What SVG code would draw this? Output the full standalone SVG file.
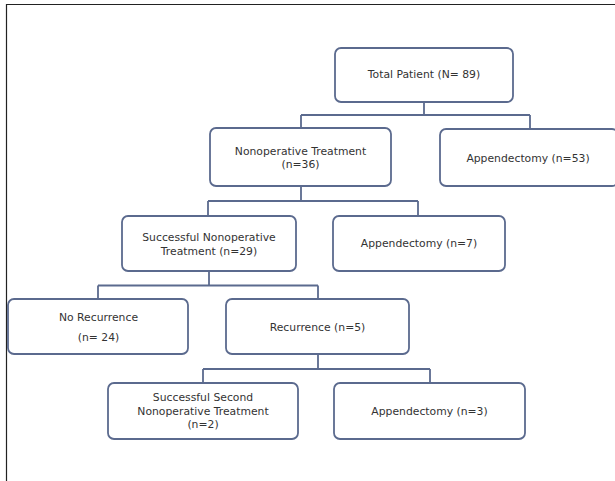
<svg xmlns="http://www.w3.org/2000/svg" width="615" height="481" viewBox="0 0 615 481">
<style>
.box{fill:#ffffff;stroke:#5b6a8e;stroke-width:1.8}
.con{fill:none;stroke:#5b6a8e;stroke-width:1.8}
text{font-family:"DejaVu Sans",Verdana,sans-serif;font-size:10.8px;fill:#333333;text-anchor:middle}
</style>
<rect x="0" y="0" width="615" height="481" fill="#ffffff"/>
<path d="M6.5,481 V4.5 H615" fill="none" stroke="#222222" stroke-width="1.2"/>
<g id="connectors">
<path class="con" d="M424,102 V115 M301,115 H530 M301,115 V128 M530,115 V129"/>
<path class="con" d="M301,186 V201 M208,201 H418 M208,201 V216 M418,201 V216"/>
<path class="con" d="M209,271 V285.5 M98,285.5 H318 M98,285.5 V299 M318,285.5 V299"/>
<path class="con" d="M318,354 V369 M203,369 H430 M203,369 V383 M430,369 V383"/>
</g>
<g id="total">
<rect class="box" x="335" y="48" width="178" height="54" rx="6"/>
<text x="424" y="78">Total Patient (N= 89)</text>
</g>
<g id="nonop">
<rect class="box" x="210" y="128" width="181" height="58" rx="6"/>
<text x="300.5" y="155">Nonoperative Treatment</text>
<text x="300.5" y="168">(n=36)</text>
</g>
<g id="app53">
<rect class="box" x="440" y="129" width="178" height="57" rx="6"/>
<text x="528" y="162">Appendectomy (n=53)</text>
</g>
<g id="succnonop">
<rect class="box" x="122" y="216" width="174" height="55" rx="6"/>
<text x="209" y="241">Successful Nonoperative</text>
<text x="209" y="255">Treatment (n=29)</text>
</g>
<g id="app7">
<rect class="box" x="333" y="216" width="172" height="55" rx="6"/>
<text x="419" y="247">Appendectomy (n=7)</text>
</g>
<g id="norec">
<rect class="box" x="8" y="299" width="180" height="55" rx="6"/>
<text x="98.5" y="321">No Recurrence</text>
<text x="98.5" y="341">(n= 24)</text>
</g>
<g id="rec">
<rect class="box" x="226" y="299" width="183" height="55" rx="6"/>
<text x="317.5" y="331">Recurrence (n=5)</text>
</g>
<g id="succsecond">
<rect class="box" x="108" y="383" width="190" height="56" rx="6"/>
<text x="203" y="401">Successful Second</text>
<text x="203" y="415">Nonoperative Treatment</text>
<text x="203" y="428">(n=2)</text>
</g>
<g id="app3">
<rect class="box" x="334" y="383" width="191" height="56" rx="6"/>
<text x="429.5" y="415">Appendectomy (n=3)</text>
</g>
</svg>
